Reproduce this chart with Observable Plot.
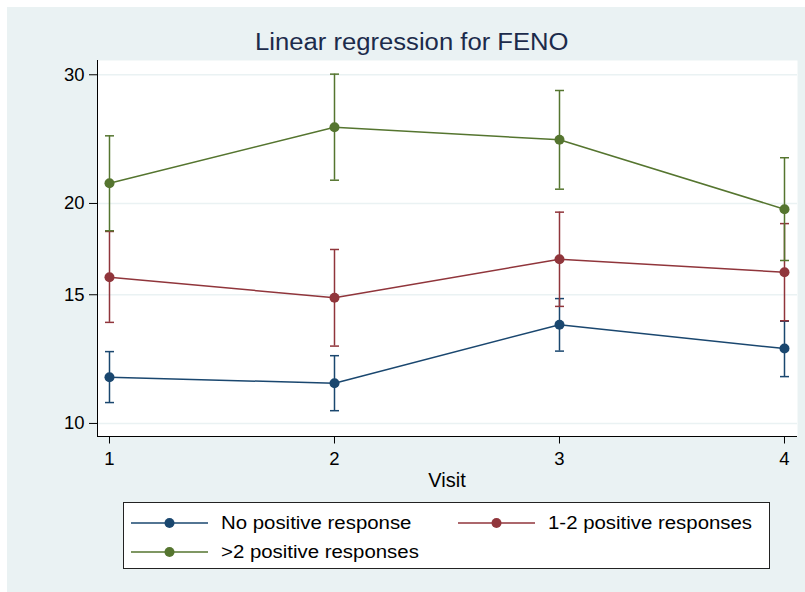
<!DOCTYPE html>
<html>
<head>
<meta charset="utf-8">
<script src="https://cdn.jsdelivr.net/npm/d3@7"></script>
<script src="https://cdn.jsdelivr.net/npm/@observablehq/plot@0.6"></script>
<style>
  html, body { margin: 0; padding: 0; background: #ffffff; }
  #wrap { position: relative; width: 805px; height: 592px; overflow: hidden; font-family: "Liberation Sans", Arial, sans-serif; }
  #bg { position: absolute; left: 7px; top: 7px; width: 798px; height: 585px; background: #eaf2f3; }
  #chart { position: absolute; left: 0; top: 0; }
  .t { position: absolute; white-space: nowrap; line-height: 1; transform-origin: 0 0; }
  #title { font-size: 23px; color: #1c2b4b; top: 30.5px; }
  #xlab { font-size: 20px; color: #000; top: 469.8px; }
  #legend { position: absolute; left: 123px; top: 502px; width: 647px; height: 67px; background: #fff; border: 1px solid #222; box-sizing: border-box; }
  .lt { font-size: 18px; color: #000; }
</style>
</head>
<body>
<div id="wrap">
  <div id="bg"></div>
  <div id="chart"></div>
  <div id="title" class="t">Linear regression for FENO</div>
  <div id="xlab" class="t">Visit</div>
  <div id="legend"></div>
</div>
<script>
// ---- data ----
const visits = [1, 2, 3, 4];
const seriesNames = ["No positive response", "1-2 positive responses", ">2 positive responses"];
const seriesColors = ["#1a476f", "#90353b", "#55752f"];

const noPosMean = [11.57, 11.35, 13.65, 12.66];
const noPosLo   = [10.68, 10.41, 12.56, 11.59];
const noPosHi   = [12.54, 12.38, 14.82, 13.80];

const oneTwoMean = [15.85, 14.86, 16.78, 16.10];
const oneTwoLo   = [13.75, 12.76, 14.46, 13.82];
const oneTwoHi   = [18.31, 17.30, 19.46, 18.77];

const gt2Mean = [21.32, 25.43, 24.44, 19.64];
const gt2Lo   = [18.35, 21.52, 20.92, 16.71];
const gt2Hi   = [24.75, 30.06, 28.55, 23.10];

const yTicks = [10, 15, 20, 30];
const xTicks = [1, 2, 3, 4];

const titleText = "Linear regression for FENO";
const xLabelText = "Visit";

// ---- build table ----
const means = [noPosMean, oneTwoMean, gt2Mean];
const los = [noPosLo, oneTwoLo, gt2Lo];
const his = [noPosHi, oneTwoHi, gt2Hi];
const data = [];
seriesNames.forEach((s, i) => {
  visits.forEach((v, j) => {
    data.push({series: s, visit: v, mean: means[i][j], lo: los[i][j], hi: his[i][j]});
  });
});

const capSymbol = {
  draw(ctx, size) {
    const w = Math.sqrt(size / Math.PI);
    ctx.moveTo(-w, 0);
    ctx.lineTo(w, 0);
  }
};

const W = 805, H = 500;
const xDomain = [0.9467, 4.0578];
const yDomain = [9.597, 31.38];

const marks = [
  Plot.frame({fill: "#ffffff", stroke: null}),
  Plot.ruleY(yTicks, {stroke: "#eaf2f3", strokeWidth: 1.5}),
  Plot.axisY({ticks: yTicks, tickFormat: d => String(d), tickSize: 8, tickPadding: 5, fontSize: 18.5, label: null}),
  Plot.axisX({ticks: xTicks, tickFormat: d => String(d), tickSize: 7.5, tickPadding: 8, fontSize: 18.5, label: null}),
  Plot.ruleX([xDomain[0]], {stroke: "#000", strokeWidth: 1}),
  Plot.ruleY([yDomain[0]], {stroke: "#000", strokeWidth: 1}),
];
seriesNames.forEach((s, i) => {
  const d = data.filter(r => r.series === s);
  marks.push(
    Plot.ruleX(d, {x: "visit", y1: "lo", y2: "hi", stroke: "series", strokeWidth: 1.5}),
    Plot.dot(d, {x: "visit", y: "hi", symbol: capSymbol, r: 4.5, stroke: "series", fill: "none", strokeWidth: 1.5}),
    Plot.dot(d, {x: "visit", y: "lo", symbol: capSymbol, r: 4.5, stroke: "series", fill: "none", strokeWidth: 1.5}),
    Plot.line(d, {x: "visit", y: "mean", stroke: "series", strokeWidth: 1.5}),
    Plot.dot(d, {x: "visit", y: "mean", fill: "series", r: 5, stroke: "none"})
  );
});

const chart = Plot.plot({
  width: W,
  height: H,
  marginLeft: 97,
  marginRight: 8,
  marginTop: 60,
  marginBottom: 64,
  style: {background: "transparent", fontFamily: "Liberation Sans, Arial, sans-serif", color: "#000", overflow: "visible"},
  x: {domain: xDomain, axis: null},
  y: {type: "log", domain: yDomain, axis: null},
  color: {domain: seriesNames, range: seriesColors},
  marks
});
document.getElementById("chart").appendChild(chart);

// ---- title & axis label ----
function placeCentered(el, text, cx, sx) {
  el.textContent = text;
  const w = el.getBoundingClientRect().width;
  el.style.left = (cx - w * sx / 2) + "px";
  el.style.transform = `scaleX(${sx})`;
}
placeCentered(document.getElementById("title"), titleText, 411.5, 1.115);
placeCentered(document.getElementById("xlab"), xLabelText, 447, 1.0);

// ---- legend ----
const legend = document.getElementById("legend");
const legendPos = [
  {lx: 131, ly: 522.7},
  {lx: 458, ly: 522.7},
  {lx: 131, ly: 551.7}
];
seriesNames.forEach((s, i) => {
  const p = legendPos[i];
  const ns = "http://www.w3.org/2000/svg";
  const svg = document.createElementNS(ns, "svg");
  svg.setAttribute("width", 80);
  svg.setAttribute("height", 14);
  svg.style.position = "absolute";
  svg.style.left = (p.lx - 123 - 1) + "px";
  svg.style.top = (p.ly - 7 - 502 - 1) + "px";
  const ln = document.createElementNS(ns, "line");
  ln.setAttribute("x1", 0); ln.setAttribute("x2", 77);
  ln.setAttribute("y1", 7); ln.setAttribute("y2", 7);
  ln.setAttribute("stroke", seriesColors[i]); ln.setAttribute("stroke-width", 1.5);
  const c = document.createElementNS(ns, "circle");
  c.setAttribute("cx", 38.5); c.setAttribute("cy", 7); c.setAttribute("r", 5);
  c.setAttribute("fill", seriesColors[i]);
  svg.appendChild(ln); svg.appendChild(c);
  legend.appendChild(svg);
  const t = document.createElement("div");
  t.className = "t lt";
  t.textContent = s;
  t.style.left = (p.lx + 89.5 - 123 - 1) + "px";
  t.style.top = (p.ly + 6.6 - 0.8465 * 18 - 502 - 1) + "px";
  t.style.transform = "scaleX(1.133)";
  legend.appendChild(t);
});
</script>
</body>
</html>
